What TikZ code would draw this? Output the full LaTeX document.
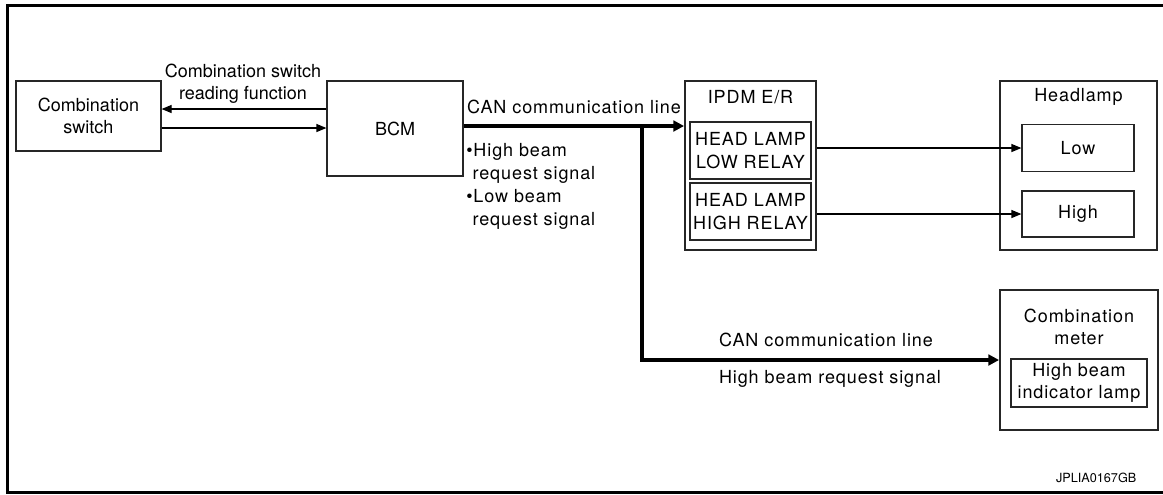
\documentclass[tikz,border=0pt]{standalone}
\usepackage{fontspec}
\setmainfont{TeX Gyre Heros}
\newfontfamily\spc[LetterSpace=5]{TeX Gyre Heros}
\usetikzlibrary{arrows.meta, calc}

\begin{document}
\begin{tikzpicture}[x=0.75pt, y=-0.75pt, line join=miter,
	font=\fontsize{13.5}{16.5}\selectfont,
	blk/.style 2 args={draw=black!85, line width=0.9pt, inner sep=0pt, align=center,
		minimum width=#1*0.75pt, minimum height=#2*0.75pt},
	spaced/.style={font=\spc\fontsize{13.5}{17}\selectfont, align=center},
	sig/.style={-{Triangle[length=7.5pt, width=6pt]}, line width=0.9pt},
	bus/.style={-{Triangle[length=8pt, width=8pt]}, line width=2.7pt}]

\useasboundingbox (0,0) rectangle (1163,494);
\draw[line width=2pt] (1163,5.3) -- (7.3,5.3) -- (7.3,492.5) -- (1163,492.5);

% ==== Left: switch and BCM ====
\node[blk={145}{70}] (csw) at (88.5,116) {Combination\\switch};
\node[blk={136}{95}] (bcm) at (395,128.5) {BCM};
\coordinate (rd) at (0,109);
\coordinate (wr) at (0,128);
\draw[sig] (bcm.west |- rd) -- (csw.east |- rd);
\draw[sig] (csw.east |- wr) -- (bcm.west |- wr);
\node[align=center] (rdlbl) at (243,83.5) {Combination switch\\reading function};

% ==== IPDM E/R ====
\node[blk={131}{169}, line width=1.4pt] (ipdm) at (750.5,165.5) {};
\node[spaced] (ipdmttl) at (750.5,97) {IPDM E/R};
\node[blk={121}{57}, spaced] (lowrly) at (750.5,150.5) {HEAD LAMP\\LOW RELAY};
\node[blk={121}{57}, spaced] (highrly) at (750.5,211.5) {HEAD LAMP\\HIGH RELAY};

% ==== Headlamp ====
\node[blk={157}{169}, line width=1.4pt] (hlamp) at (1078.5,165.5) {};
\node[spaced] (hlampttl) at (1078.5,97) {Headlamp};
\node[blk={112}{47}, spaced] (low) at (1078,148) {Low};
\node[blk={112}{46}, spaced] (high) at (1078,214) {High};
\draw[sig] (ipdm.east |- low.west) -- (low.west);
\draw[sig] (ipdm.east |- high.west) -- (high.west);

% ==== Combination meter ====
\node[blk={158}{140}, line width=1.4pt] (meter) at (1079,360) {};
\node[spaced] (meterttl) at (1079,327) {Combination\\meter};
\node[blk={136}{48}, spaced] (ind) at (1079,383) {High beam\\indicator lamp};

% ==== CAN lines ====
\coordinate (jn) at (642,126);
\draw[bus] (bcm.east |- jn) -- (ipdm.west |- jn);
\draw[bus] (jn) |- (meter.west);
\node[spaced] (canlbl) at (574,107) {CAN communication line};
\node[spaced, align=left, anchor=north west, inner sep=0pt,
	font=\spc\fontsize{13.5}{17.3}\selectfont] (reqlbl) at (466,143)
	{•High beam\\\hphantom{•}request signal\\•Low beam\\\hphantom{•}request signal};
\node[spaced] (canlbl2) at (826,340) {CAN communication line};
\node[spaced] (reqlbl2) at (830,379) {High beam request signal};

\node[anchor=east, font=\fontsize{9.5}{11}\selectfont] (code) at (1141,478) {JPLIA0167GB};

\end{tikzpicture}
\end{document}
